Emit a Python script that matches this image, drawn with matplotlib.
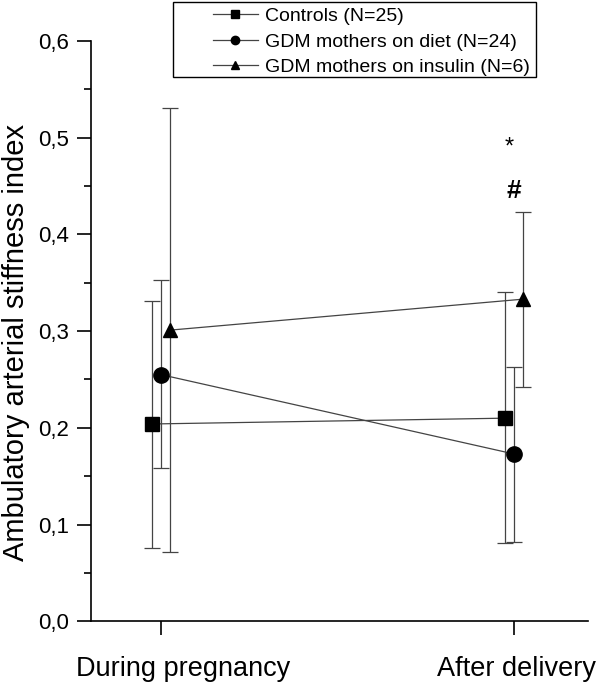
import matplotlib.pyplot as plt
from matplotlib.patches import Rectangle
from matplotlib.ticker import MultipleLocator, FuncFormatter
from matplotlib.transforms import ScaledTranslation, blended_transform_factory

plt.rcParams['font.family'] = ['Liberation Sans', 'DejaVu Sans']

# x categories
periods = ["During pregnancy", "After delivery"]

# group names, means and error bar ends
groups = ["Controls (N=25)", "GDM mothers on diet (N=24)", "GDM mothers on insulin (N=6)"]
markers = ["s", "o", "^"]
offsets = [-0.025, 0.0, 0.025]

controls_mean = [0.204, 0.210]
controls_hi = [0.331, 0.340]
controls_lo = [0.076, 0.081]

diet_mean = [0.255, 0.173]
diet_hi = [0.353, 0.263]
diet_lo = [0.158, 0.082]

insulin_mean = [0.301, 0.333]
insulin_hi = [0.531, 0.423]
insulin_lo = [0.072, 0.242]

means = [controls_mean, diet_mean, insulin_mean]
highs = [controls_hi, diet_hi, insulin_hi]
lows = [controls_lo, diet_lo, insulin_lo]

fig = plt.figure(figsize=(6, 6.82), dpi=100)
ax = fig.add_axes([0.152, 0.089, 0.828, 0.851])

for name, m, off, mean, hi, lo in zip(groups, markers, offsets, means, highs, lows):
    xs = [i + off for i in range(len(periods))]
    yerr = [[a - b for a, b in zip(mean, lo)], [b - a for a, b in zip(mean, hi)]]
    ax.errorbar(xs, mean, yerr=yerr, fmt="none", ecolor="#444444",
                elinewidth=0.9, capsize=6, capthick=0.9)
    ax.plot(xs, mean, color="#444444", linewidth=0.9, marker=m,
            markersize=10 if m != "o" else 11, markerfacecolor="black",
            markeredgecolor="black", label=name)

# significance marks
ax.text(1 - 0.012, 0.49, "*", ha="center", va="center", fontsize=17)
ax.text(1, 0.445, "#", ha="center", va="center", fontsize=19, fontweight="bold")

ax.set_xlim(-0.198, 1.21)
ax.set_ylim(0, 0.6)
ax.set_xticks(range(len(periods)))
ax.set_xticklabels([])
# category labels, the first one sits a little right of its tick
trans = blended_transform_factory(ax.transData, ax.transAxes)
for i, (lab, dx) in enumerate(zip(periods, [22, 3])):
    ax.text(i, -0.06, lab, ha="center", va="top", fontsize=19.5,
            transform=trans + ScaledTranslation(dx / 100, 0, fig.dpi_scale_trans))
ax.yaxis.set_major_locator(MultipleLocator(0.1))
ax.yaxis.set_minor_locator(MultipleLocator(0.05))
ax.yaxis.set_major_formatter(FuncFormatter(lambda v, p: f"{v:.1f}".replace(".", ",")))
ax.tick_params(axis="y", labelsize=16, length=10, width=1.2, direction="out", pad=6)
ax.tick_params(axis="y", which="minor", length=5, width=1.2)
ax.tick_params(axis="x", length=10, width=1.2)
ax.set_ylabel("Ambulatory arterial stiffness index", fontsize=21)
ax.yaxis.set_label_coords(-0.124, 0.48)

ax.spines["top"].set_visible(False)
ax.spines["right"].set_visible(False)
ax.spines["left"].set_linewidth(1.2)
ax.spines["bottom"].set_linewidth(1.2)

# legend: entries without frame, box drawn separately (wide left margin)
leg = fig.legend(loc="upper left", bbox_to_anchor=(0.355, 0.989), numpoints=1,
                 fontsize=14, frameon=False, handlelength=2.3, handletextpad=0.35,
                 borderpad=0, labelspacing=0.4, borderaxespad=0)
for h in leg.legend_handles:
    h.set_markersize(6)
fig.patches.append(Rectangle((0.288, 0.887), 0.605, 0.110, transform=fig.transFigure,
                             fill=False, edgecolor="black", linewidth=1.0))

fig.savefig("out.png", dpi=100)
